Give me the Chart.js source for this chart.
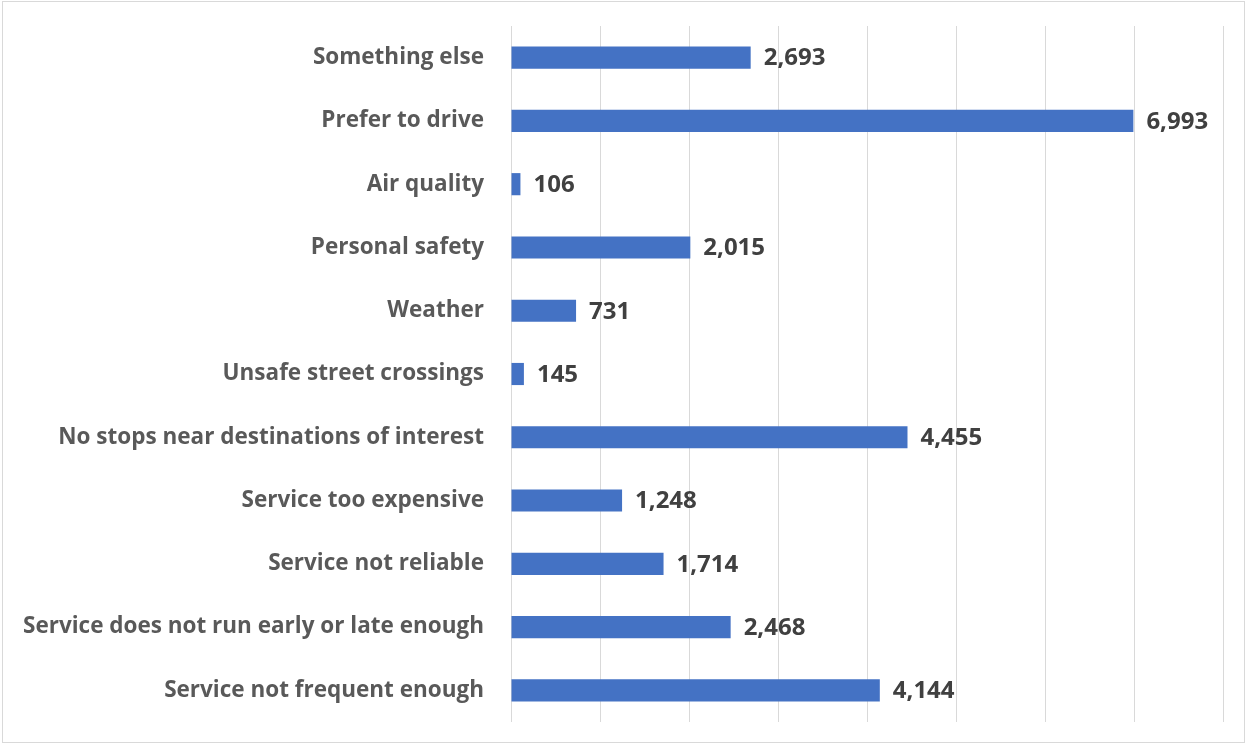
<!DOCTYPE html>
<html>
<head>
<meta charset="utf-8">
<script src="https://cdn.jsdelivr.net/npm/chart.js@4/dist/chart.umd.min.js"></script>
<style>
  html, body { margin: 0; padding: 0; background: #fff; }
  #wrap { position: relative; width: 1247px; height: 744px; }
  #frame {
    position: absolute; left: 2px; top: 1px; width: 1241px; height: 740px;
    border: 1px solid #d9d9d9; pointer-events: none;
  }
</style>
</head>
<body>
<div id="wrap">
  <canvas id="reasons-chart" width="1247" height="744"></canvas>
  <div id="frame"></div>
</div>
<script>
// reasons for not using transit, top to bottom
const categories = [
  'Something else',
  'Prefer to drive',
  'Air quality',
  'Personal safety',
  'Weather',
  'Unsafe street crossings',
  'No stops near destinations of interest',
  'Service too expensive',
  'Service not reliable',
  'Service does not run early or late enough',
  'Service not frequent enough'
]
const responses = [2693, 6993, 106, 2015, 731, 145, 4455, 1248, 1714, 2468, 4144]

const axisMin = 0
const axisMax = 8000
const axisStep = 1000

const FONT = '"Open Sans", Lato, sans-serif'

// value labels at the end of each bar
const barValueLabels = {
  id: 'barValueLabels',
  afterDatasetsDraw(chart) {
    const ctx = chart.ctx
    const meta = chart.getDatasetMeta(0)
    ctx.save()
    ctx.font = 'bold 24px ' + FONT
    ctx.fillStyle = '#404040'
    ctx.textAlign = 'left'
    ctx.textBaseline = 'middle'
    meta.data.forEach((bar, i) => {
      const v = chart.data.datasets[0].data[i]
      ctx.fillText(v.toLocaleString('en-US'), bar.x + 13, bar.y + 1)
    })
    ctx.restore()
  }
}

const ctx = document.getElementById('reasons-chart')
new Chart(ctx, {
  type: 'bar',
  data: {
    labels: categories,
    datasets: [{
      data: responses,
      backgroundColor: '#4472c4',
      borderWidth: 0,
      categoryPercentage: 1,
      barPercentage: 0.35
    }]
  },
  options: {
    indexAxis: 'y',
    responsive: false,
    animation: false,
    layout: { padding: { top: 26, bottom: 22, right: 24, left: 0 } },
    scales: {
      x: {
        min: axisMin,
        max: axisMax,
        afterFit: scale => { scale.height = 0 },
        ticks: { display: false, stepSize: axisStep },
        grid: { color: '#d9d9d9', lineWidth: 1, drawTicks: false },
        border: { display: false }
      },
      y: {
        afterFit: scale => {
          scale.width = 511
          scale.paddingTop = 0
          scale.paddingBottom = 0
        },
        ticks: {
          color: '#595959',
          padding: 27,
          font: { family: FONT, size: 22.5, weight: 'bold' }
        },
        grid: { display: false, drawTicks: false },
        border: { display: false }
      }
    },
    plugins: {
      legend: { display: false },
      tooltip: { enabled: false }
    }
  },
  plugins: [barValueLabels]
})
</script>
</body>
</html>
